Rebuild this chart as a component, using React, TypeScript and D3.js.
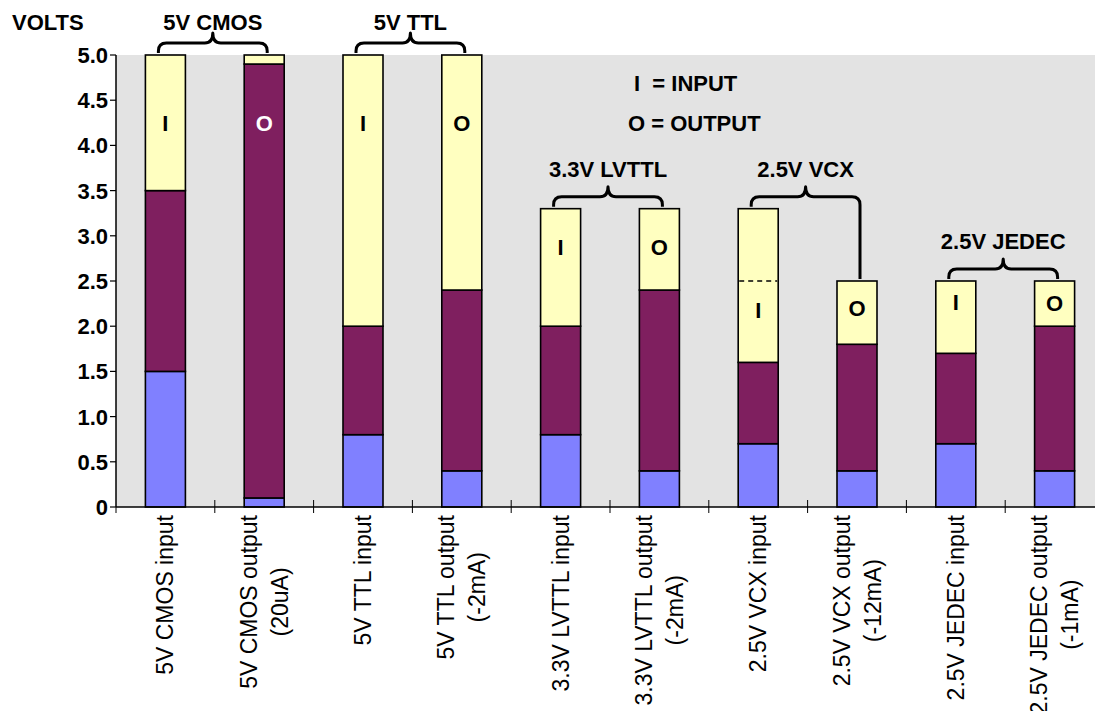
import { useEffect, useRef } from 'react';
import * as d3 from 'd3';

// category labels (each entry = lines of the rotated label)
const categories: string[][] = [
  ['5V CMOS input'],
  ['5V CMOS output', '(20uA)'],
  ['5V TTL input'],
  ['5V TTL output', '(-2mA)'],
  ['3.3V LVTTL input'],
  ['3.3V LVTTL output', '(-2mA)'],
  ['2.5V VCX input'],
  ['2.5V VCX output', '(-12mA)'],
  ['2.5V JEDEC input'],
  ['2.5V JEDEC output', '(-1mA)'],
];

// volts: top of low (blue) band, top of undefined (purple) band, top of high (yellow) band
const lowTop = [1.5, 0.1, 0.8, 0.4, 0.8, 0.4, 0.7, 0.4, 0.7, 0.4];
const midTop = [3.5, 4.9, 2.0, 2.4, 2.0, 2.4, 1.6, 1.8, 1.7, 2.0];
const barTop = [5.0, 5.0, 5.0, 5.0, 3.3, 3.3, 3.3, 2.5, 2.5, 2.5];

// I/O markers inside bars and their height (volts)
const markers = ['I', 'O', 'I', 'O', 'I', 'O', 'I', 'O', 'I', 'O'];
const markerAt = [4.25, 4.25, 4.25, 4.25, 2.88, 2.88, 2.18, 2.2, 2.27, 2.26];

// dashed reference inside the VCX input bar
const dashedIndex = 6;
const dashedValue = 2.5;

const groups = [
  { label: '5V CMOS', from: 0, to: 1 },
  { label: '5V TTL', from: 2, to: 3 },
  { label: '3.3V LVTTL', from: 4, to: 5 },
  { label: '2.5V VCX', from: 6, to: 7 },
  { label: '2.5V JEDEC', from: 8, to: 9 },
];

const yTicks = [0, 0.5, 1, 1.5, 2, 2.5, 3, 3.5, 4, 4.5, 5];

const W = 1095;
const H = 711;
const PLOT = { left: 116, top: 55, bottom: 507, band: 98.8 };
const BAR_W = 40;
const C = {
  bg: '#e3e3e3',
  low: '#8080ff',
  mid: '#7f1f5f',
  high: '#ffffc0',
};
const FONT = "'Liberation Sans', Arial, Helvetica, sans-serif";

export default function App() {
  const ref = useRef<SVGSVGElement>(null);

  useEffect(() => {
    const svg = d3.select(ref.current);
    svg.selectAll('*').remove();

    const idx = categories.map((_, i) => i);
    const x = d3.scaleBand<number>()
      .domain(idx)
      .range([PLOT.left, PLOT.left + PLOT.band * categories.length]);
    const y = d3.scaleLinear().domain([0, 5]).range([PLOT.bottom, PLOT.top]);
    const cx = (i: number) => (x(i) as number) + x.bandwidth() / 2;

    // plot background
    svg.append('rect')
      .attr('x', PLOT.left).attr('y', PLOT.top)
      .attr('width', W - PLOT.left).attr('height', PLOT.bottom - PLOT.top)
      .attr('fill', C.bg);

    // bars
    const segs: { i: number; y0: number; y1: number; fill: string }[] = [];
    idx.forEach((i) => {
      segs.push({ i, y0: 0, y1: lowTop[i], fill: C.low });
      segs.push({ i, y0: lowTop[i], y1: midTop[i], fill: C.mid });
      segs.push({ i, y0: midTop[i], y1: barTop[i], fill: C.high });
    });
    svg.append('g').selectAll('rect')
      .data(segs)
      .enter()
      .append('rect')
      .attr('x', (d) => cx(d.i) - BAR_W / 2)
      .attr('width', BAR_W)
      .attr('y', (d) => y(d.y1))
      .attr('height', (d) => y(d.y0) - y(d.y1))
      .attr('fill', (d) => d.fill)
      .attr('stroke', '#000')
      .attr('stroke-width', 1.6);

    // dashed line inside VCX input
    svg.append('line')
      .attr('x1', cx(dashedIndex) - BAR_W / 2 + 1).attr('x2', cx(dashedIndex) + BAR_W / 2 - 1)
      .attr('y1', y(dashedValue)).attr('y2', y(dashedValue))
      .attr('stroke', '#000').attr('stroke-width', 1.5)
      .attr('stroke-dasharray', '5,4');

    // I / O markers
    svg.append('g').selectAll('text')
      .data(idx)
      .enter()
      .append('text')
      .attr('x', (i) => cx(i))
      .attr('y', (i) => y(markerAt[i]) + 8)
      .attr('text-anchor', 'middle')
      .attr('font-family', FONT)
      .attr('font-weight', 'bold')
      .attr('font-size', '22px')
      .attr('fill', (i) => (markerAt[i] < midTop[i] ? '#fff' : '#000'))
      .text((i) => markers[i]);

    // axes
    svg.append('line')
      .attr('x1', PLOT.left).attr('x2', PLOT.left)
      .attr('y1', PLOT.top).attr('y2', PLOT.bottom)
      .attr('stroke', '#000').attr('stroke-width', 1.5);
    svg.append('line')
      .attr('x1', PLOT.left).attr('x2', W)
      .attr('y1', PLOT.bottom).attr('y2', PLOT.bottom)
      .attr('stroke', '#000').attr('stroke-width', 1.5);

    // y ticks + labels
    const yt = svg.append('g');
    yt.selectAll('line')
      .data(yTicks)
      .enter()
      .append('line')
      .attr('x1', PLOT.left - 6).attr('x2', PLOT.left)
      .attr('y1', (d) => y(d)).attr('y2', (d) => y(d))
      .attr('stroke', '#000').attr('stroke-width', 1.2);
    yt.selectAll('text')
      .data(yTicks)
      .enter()
      .append('text')
      .attr('x', PLOT.left - 8)
      .attr('y', (d) => y(d) + 8)
      .attr('text-anchor', 'end')
      .attr('font-family', FONT)
      .attr('font-weight', 'bold')
      .attr('font-size', '22px')
      .text((d) => (d === 0 ? '0' : d.toFixed(1)));

    svg.append('text')
      .attr('x', 12).attr('y', 30)
      .attr('font-family', FONT).attr('font-weight', 'bold').attr('font-size', '22px')
      .text('VOLTS');

    // x ticks at band boundaries
    svg.append('g').selectAll('line')
      .data(d3.range(categories.length + 1))
      .enter()
      .append('line')
      .attr('x1', (k) => PLOT.left + k * x.bandwidth())
      .attr('x2', (k) => PLOT.left + k * x.bandwidth())
      .attr('y1', (k) => (k === 0 ? PLOT.bottom : PLOT.bottom - 7))
      .attr('y2', PLOT.bottom + 6)
      .attr('stroke', '#000').attr('stroke-width', 1);

    // rotated category labels
    const LINE = 31;
    idx.forEach((i) => {
      const lines = categories[i];
      const n = lines.length;
      const g = svg.append('g')
        .attr('transform', `translate(${cx(i)},${PLOT.bottom + 8}) rotate(-90)`);
      const texts = lines.map((t, k) =>
        g.append('text')
          .attr('y', 8 + (k - (n - 1) / 2) * LINE)
          .attr('font-family', FONT)
          .attr('font-size', '23px')
          .attr('fill', '#000')
          .text(t)
      );
      const lens = texts.map((t) => (t.node() as SVGTextElement).getComputedTextLength());
      const maxLen = Math.max(...lens);
      texts.forEach((t) => {
        t.attr('x', -maxLen / 2).attr('text-anchor', 'middle');
      });
    });

    // braces with group titles
    const r = 8;
    groups.forEach((gr) => {
      const x1 = cx(gr.from) - 7;
      const x2 = cx(gr.to) + 3;
      const xm = (x1 + x2) / 2;
      const b1 = y(barTop[gr.from]) - 2;
      const b2 = y(barTop[gr.to]) - 2;
      const yh = Math.min(b1, b2) - 10;
      const peak = yh - 10;
      const p = d3.path();
      p.moveTo(x1, b1);
      p.lineTo(x1, yh + r);
      p.quadraticCurveTo(x1, yh, x1 + r, yh);
      p.lineTo(xm - r, yh);
      p.quadraticCurveTo(xm, yh, xm, peak);
      p.quadraticCurveTo(xm, yh, xm + r, yh);
      p.lineTo(x2 - r, yh);
      p.quadraticCurveTo(x2, yh, x2, yh + r);
      p.lineTo(x2, b2);
      svg.append('path')
        .attr('d', p.toString())
        .attr('fill', 'none')
        .attr('stroke', '#000')
        .attr('stroke-width', 3)
        .attr('stroke-linejoin', 'round');
      svg.append('text')
        .attr('x', xm)
        .attr('y', Math.max(peak - 10, 30))
        .attr('text-anchor', 'middle')
        .attr('font-family', FONT).attr('font-weight', 'bold').attr('font-size', '22px')
        .text(gr.label);
    });

    // legend
    const legend = [
      { text: 'I  = INPUT', v: 4.6 },
      { text: 'O = OUTPUT', v: 4.16 },
    ];
    svg.append('g').selectAll('text')
      .data(legend)
      .enter()
      .append('text')
      .attr('x', (d, k) => (k === 0 ? 634 : 628))
      .attr('y', (d) => y(d.v))
      .attr('font-family', FONT).attr('font-weight', 'bold').attr('font-size', '22px')
      .style('white-space', 'pre')
      .text((d) => d.text);
  }, []);

  return (
    <>
      <style>{'body{margin:0;background:#fff}'}</style>
      <svg ref={ref} width={W} height={H} style={{ display: 'block' }} />
    </>
  );
}
